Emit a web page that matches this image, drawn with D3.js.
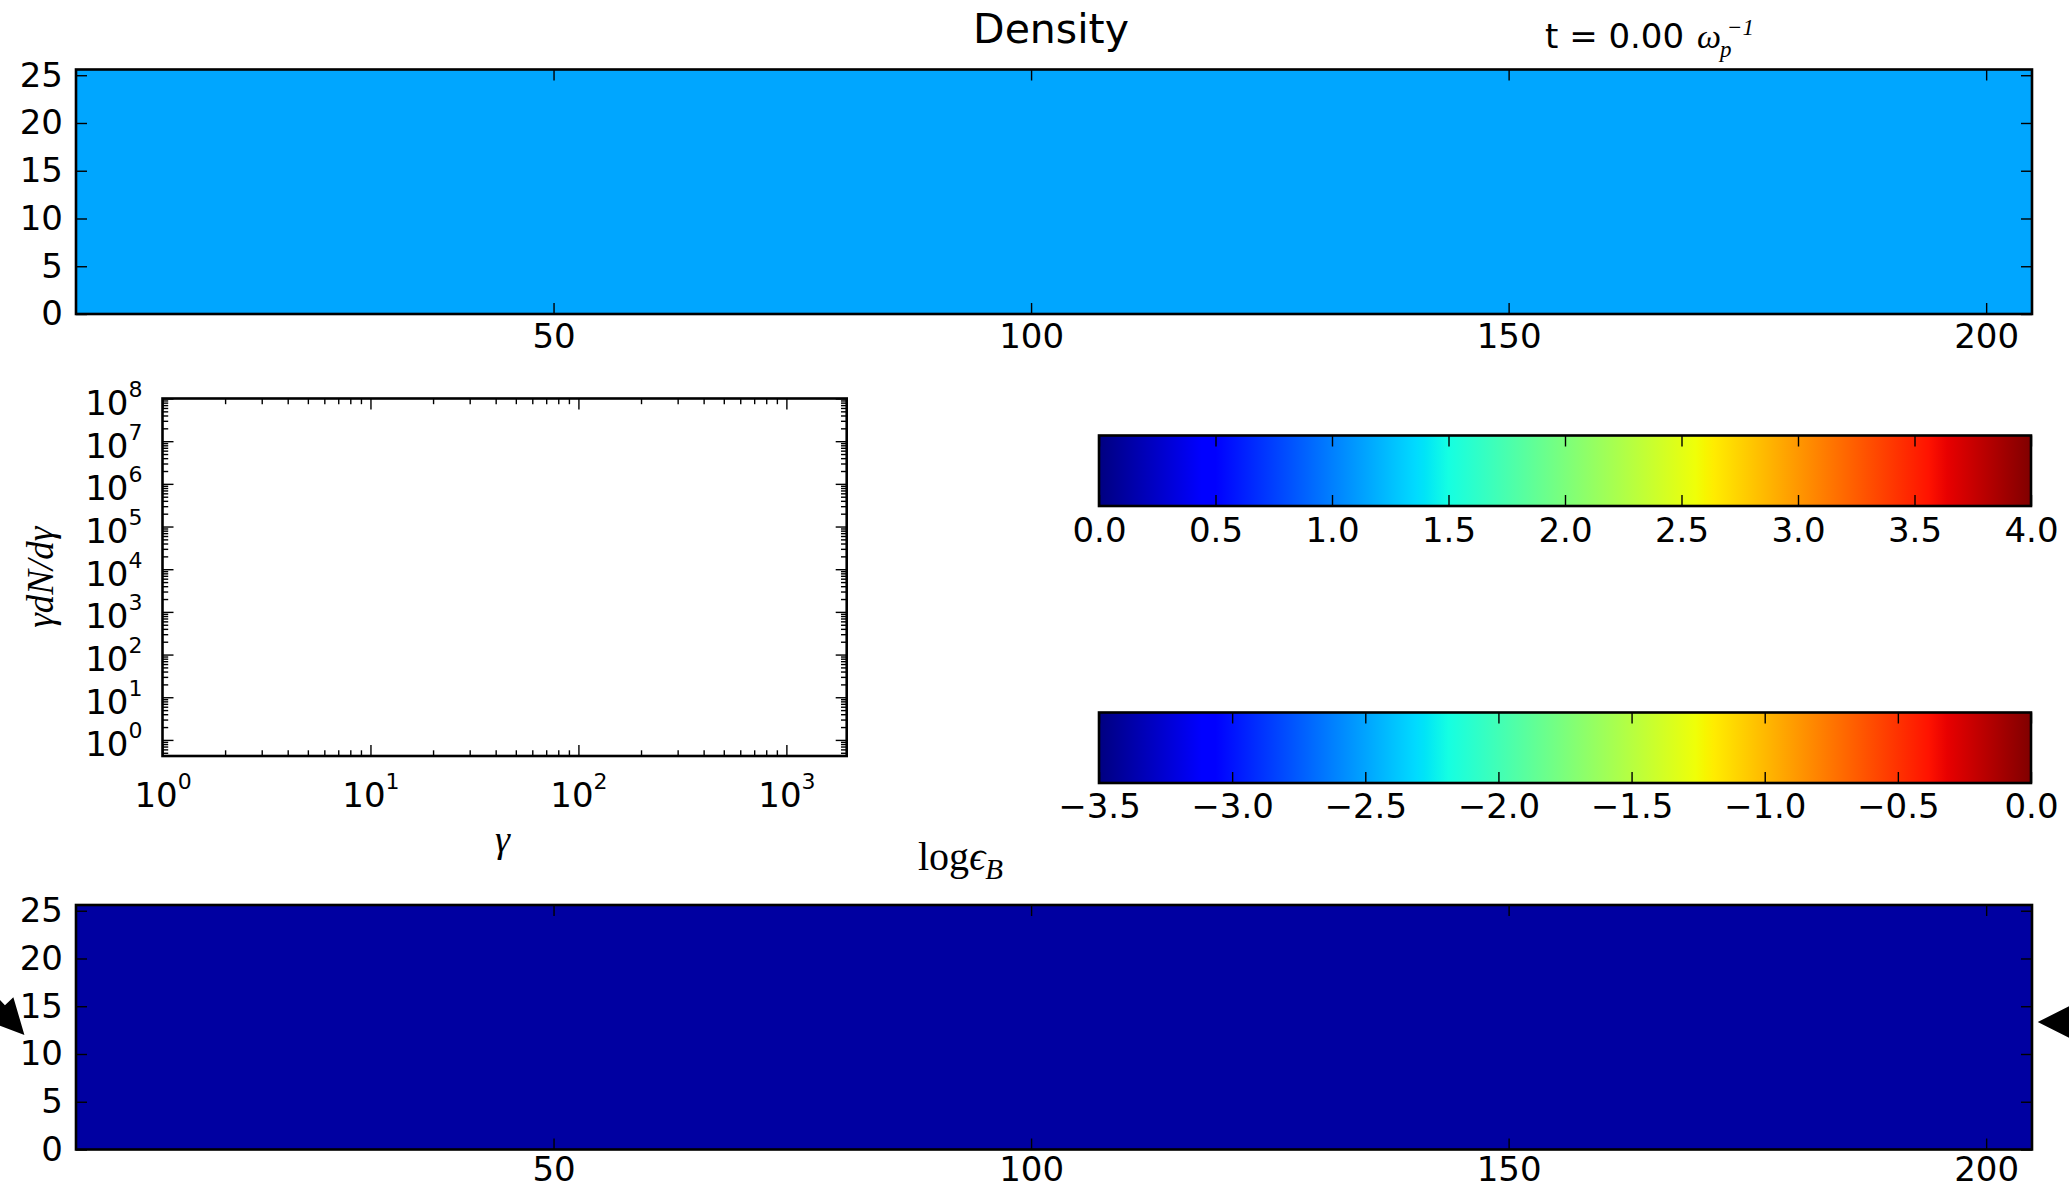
<!DOCTYPE html>
<html>
<head>
<meta charset="utf-8">
<script src="https://cdn.jsdelivr.net/npm/d3@7"></script>
<style>
  body { margin: 0; background: #fff; }
  svg text { font-family: "DejaVu Sans", sans-serif; fill: #000; }
</style>
</head>
<body>
<svg id="fig" width="2069" height="1189"></svg>
<script>
// ---- data ----
const fieldX = [0, 204.8];          // cells along x
const fieldY = [0, 25.6];           // cells along y
const fieldXTicks = [50, 100, 150, 200];
const fieldYTicks = [0, 5, 10, 15, 20, 25];
const densityField = [[1.15]];      // uniform at t = 0
const logEpsBField = [[-3.4]];      // uniform at t = 0

const densityRange = [0, 4];
const densityTicks = [0, 0.5, 1, 1.5, 2, 2.5, 3, 3.5, 4];
const epsRange = [-3.5, 0];
const epsTicks = [-3.5, -3, -2.5, -2, -1.5, -1, -0.5, 0];

const spectrumX = [1, 1950];
const spectrumY = [0.42, 1e8];
const spectrumXTicks = [1, 10, 100, 1000];
const spectrumYTicks = [1, 10, 100, 1e3, 1e4, 1e5, 1e6, 1e7, 1e8];

// annotation arrows on the lower map (tip in data coords, screen angle in degrees)
const arrowTips = [
  { x: -5.4, y: 12.0, angle: 47 },
  { x: 205.4, y: 13.35, angle: 180 }
];

// matplotlib "jet" segment data
const jetRed   = [[0, 0], [0.35, 0], [0.66, 1], [0.89, 1], [1, 0.5]];
const jetGreen = [[0, 0], [0.125, 0], [0.375, 1], [0.64, 1], [0.91, 0], [1, 0]];
const jetBlue  = [[0, 0.5], [0.11, 1], [0.34, 1], [0.65, 0], [1, 0]];

function channel(seg) {
  return d3.scaleLinear().domain(seg.map(s => s[0])).range(seg.map(s => s[1])).clamp(true);
}
const jr = channel(jetRed), jg = channel(jetGreen), jb = channel(jetBlue);
function jet(t) {
  return d3.rgb(Math.round(jr(t) * 255), Math.round(jg(t) * 255), Math.round(jb(t) * 255)).toString();
}
const jetStops = Array.from(new Set([...jetRed, ...jetGreen, ...jetBlue].map(s => s[0]))).sort((a, b) => a - b);

const svg = d3.select("#fig");
const defs = svg.append("defs");
const grad = defs.append("linearGradient").attr("id", "jet").attr("x1", 0).attr("x2", 1).attr("y1", 0).attr("y2", 0);
grad.selectAll("stop").data(jetStops).enter().append("stop")
  .attr("offset", d => d)
  .attr("stop-color", d => jet(d));

const TICK = 11, MINOR = 5.7, FS = 34;

function styleTicks(g) {
  g.select(".domain").remove();
  g.selectAll(".tick line").attr("stroke", "#000").attr("stroke-width", 1.4);
  g.selectAll(".tick text").attr("font-size", FS).attr("fill", "#000")
    .style("font-family", "'DejaVu Sans', sans-serif");
}

function frame(left, top, w, h) {
  svg.append("rect").attr("x", left).attr("y", top).attr("width", w).attr("height", h)
    .attr("fill", "none").attr("stroke", "#000").attr("stroke-width", 2.6);
}

// ---- the two 2D maps ----
const mapLeft = 76, mapRight = 2032;
const mapH = (fieldY[1] - fieldY[0]) * (mapRight - mapLeft) / (fieldX[1] - fieldX[0]);

function drawMap(top, field, range, pad) {
  const x = d3.scaleLinear().domain(fieldX).range([mapLeft, mapRight]);
  const y = d3.scaleLinear().domain(fieldY).range([top + mapH, top]);
  const color = v => jet((v - range[0]) / (range[1] - range[0]));
  const rows = field.length, cols = field[0].length;
  const dx = (fieldX[1] - fieldX[0]) / cols, dy = (fieldY[1] - fieldY[0]) / rows;
  const cells = [];
  field.forEach((row, j) => row.forEach((v, i) => cells.push({ i, j, v })));

  const g = svg.append("g");
  g.selectAll("rect").data(cells).enter().append("rect")
    .attr("x", d => x(fieldX[0] + d.i * dx))
    .attr("y", d => y(fieldY[0] + (d.j + 1) * dy))
    .attr("width", d => x(fieldX[0] + (d.i + 1) * dx) - x(fieldX[0] + d.i * dx))
    .attr("height", d => y(fieldY[0] + d.j * dy) - y(fieldY[0] + (d.j + 1) * dy))
    .attr("fill", d => color(d.v));

  svg.append("g").attr("transform", `translate(0,${top + mapH})`)
    .call(d3.axisBottom(x).tickValues(fieldXTicks).tickSize(-TICK).tickPadding(pad).tickFormat(d3.format("d")))
    .call(styleTicks);
  svg.append("g").attr("transform", `translate(0,${top})`)
    .call(d3.axisTop(x).tickValues(fieldXTicks).tickSize(-TICK).tickFormat(""))
    .call(styleTicks);
  svg.append("g").attr("transform", `translate(${mapLeft},0)`)
    .call(d3.axisLeft(y).tickValues(fieldYTicks).tickSize(-TICK).tickPadding(13).tickFormat(d3.format("d")))
    .call(styleTicks);
  svg.append("g").attr("transform", `translate(${mapRight},0)`)
    .call(d3.axisRight(y).tickValues(fieldYTicks).tickSize(-TICK).tickFormat(""))
    .call(styleTicks);
  frame(mapLeft, top, mapRight - mapLeft, mapH);
  return { x, y };
}

drawMap(69.5, densityField, densityRange, 10);
const lower = drawMap(905, logEpsBField, epsRange, 7);

// ---- spectrum panel (empty log-log axes) ----
const sp = { left: 162.5, right: 846.7, top: 398.5, bottom: 756 };
const sx = d3.scaleLog().domain(spectrumX).range([sp.left, sp.right]);
const sy = d3.scaleLog().domain(spectrumY).range([sp.bottom, sp.top]);
const isMajor = v => Math.abs(Math.log10(v) - Math.round(Math.log10(v))) < 1e-9;
const sxMinor = sx.ticks().filter(v => !isMajor(v));
const syMinor = sy.ticks().filter(v => !isMajor(v));

function powerLabels(g, dy) {
  g.selectAll(".tick text").each(function (d) {
    const t = d3.select(this);
    t.text(null);
    if (dy !== undefined) t.attr("dy", dy);
    t.append("tspan").text("10");
    t.append("tspan").attr("font-size", 22).attr("dy", -18).text(Math.round(Math.log10(d)));
  });
}

svg.append("g").attr("transform", `translate(0,${sp.bottom})`)
  .call(d3.axisBottom(sx).tickValues(spectrumXTicks).tickSize(-TICK).tickPadding(27))
  .call(styleTicks).call(g => powerLabels(g));
svg.append("g").attr("transform", `translate(0,${sp.bottom})`)
  .call(d3.axisBottom(sx).tickValues(sxMinor).tickSize(-MINOR).tickFormat(""))
  .call(styleTicks);
svg.append("g").attr("transform", `translate(0,${sp.top})`)
  .call(d3.axisTop(sx).tickValues(spectrumXTicks).tickSize(-TICK).tickFormat(""))
  .call(styleTicks);
svg.append("g").attr("transform", `translate(0,${sp.top})`)
  .call(d3.axisTop(sx).tickValues(sxMinor).tickSize(-MINOR).tickFormat(""))
  .call(styleTicks);
svg.append("g").attr("transform", `translate(${sp.left},0)`)
  .call(d3.axisLeft(sy).tickValues(spectrumYTicks).tickSize(-TICK).tickPadding(20))
  .call(styleTicks).call(g => powerLabels(g, "0.47em"));
svg.append("g").attr("transform", `translate(${sp.left},0)`)
  .call(d3.axisLeft(sy).tickValues(syMinor).tickSize(-MINOR).tickFormat(""))
  .call(styleTicks);
svg.append("g").attr("transform", `translate(${sp.right},0)`)
  .call(d3.axisRight(sy).tickValues(spectrumYTicks).tickSize(-TICK).tickFormat(""))
  .call(styleTicks);
svg.append("g").attr("transform", `translate(${sp.right},0)`)
  .call(d3.axisRight(sy).tickValues(syMinor).tickSize(-MINOR).tickFormat(""))
  .call(styleTicks);
frame(sp.left, sp.top, sp.right - sp.left, sp.bottom - sp.top);

svg.append("text")
  .attr("transform", `translate(53,${(sp.top + sp.bottom) / 2}) rotate(-90)`)
  .attr("text-anchor", "middle")
  .style("font-family", "'Liberation Serif', serif").style("font-style", "italic")
  .attr("font-size", 37).attr("fill", "#9a9a9a")
  .text("γdN/dγ");
svg.append("text")
  .attr("x", (sp.left + sp.right) / 2 - 2).attr("y", 852)
  .attr("text-anchor", "middle")
  .style("font-family", "'Liberation Serif', serif").style("font-style", "italic")
  .attr("font-size", 38).attr("fill", "#9a9a9a")
  .text("γ");

// ---- colour bars ----
function colorbar(top, range, ticks, pad) {
  const left = 1099, right = 2031, h = 70.5;
  const x = d3.scaleLinear().domain(range).range([left, right]);
  svg.append("rect").attr("x", left).attr("y", top).attr("width", right - left).attr("height", h)
    .attr("fill", "url(#jet)");
  svg.append("g").attr("transform", `translate(0,${top + h})`)
    .call(d3.axisBottom(x).tickValues(ticks).tickSize(-TICK).tickPadding(pad).tickFormat(d3.format(".1f")))
    .call(styleTicks);
  svg.append("g").attr("transform", `translate(0,${top})`)
    .call(d3.axisTop(x).tickValues(ticks).tickSize(-TICK).tickFormat(""))
    .call(styleTicks);
  frame(left, top, right - left, h);
}
colorbar(435.5, densityRange, densityTicks, 12);
colorbar(712.5, epsRange, epsTicks, 11);

// ---- titles ----
svg.append("text").attr("x", 1051).attr("y", 43).attr("text-anchor", "middle")
  .attr("font-size", 41).text("Density");

svg.append("text").attr("x", 1545).attr("y", 48).attr("font-size", FS).text("t = 0.00");
const serif = sel => sel.style("font-family", "'Liberation Serif', serif").style("font-style", "italic").attr("fill", "#666");
svg.append("text").attr("x", 1697).attr("y", 48).attr("font-size", 34).call(serif).text("ω");
svg.append("text").attr("x", 1720).attr("y", 57).attr("font-size", 23).call(serif).text("p");
svg.append("text").attr("x", 1727).attr("y", 35).attr("font-size", 23).call(serif).text("−1");

const lab = svg.append("text").attr("x", 918).attr("y", 870).attr("font-size", 40)
  .style("font-family", "'Liberation Serif', serif").attr("fill", "#222");
lab.append("tspan").text("log");
lab.append("tspan").style("font-style", "italic").text("ϵ");
lab.append("tspan").style("font-style", "italic").attr("font-size", 29).attr("dy", 9).text("B");

// ---- arrows ----
const L = 35, W = 17.5, S = 6, SHAFT = 140;
const arrowPath = `M0,0 L${-L},${-W} L${-L},${-S} L${-L - SHAFT},${-S} L${-L - SHAFT},${S} L${-L},${S} L${-L},${W} Z`;
svg.append("g").selectAll("path").data(arrowTips).enter().append("path")
  .attr("d", arrowPath)
  .attr("transform", d => `translate(${lower.x(d.x)},${lower.y(d.y)}) rotate(${d.angle})`)
  .attr("fill", "#000");
</script>
</body>
</html>
